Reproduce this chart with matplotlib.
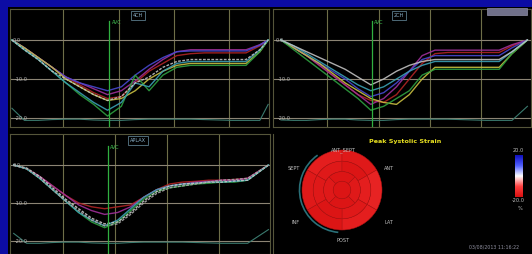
import numpy as np
import matplotlib
matplotlib.use('Agg')
import matplotlib.pyplot as plt
from matplotlib.patches import Rectangle, Wedge, Arc
from matplotlib.colors import LinearSegmentedColormap, Normalize
import matplotlib.transforms as mtransforms

# ---------------- data ----------------
tl_time = [15, 60, 110, 160, 210, 260, 310, 360, 410, 460, 510, 560, 610, 660, 710, 760, 810, 860, 910, 940]
tl_red     = [0, -2, -4.5, -7, -9.5, -11.5, -13.5, -15, -14.5, -11, -8, -6, -4, -3.5, -3.3, -3.3, -3.3, -3.3, -1.5, 0]
tl_magenta = [0, -2, -4.5, -7, -9.5, -11, -12.5, -14, -13, -10.5, -7.5, -5, -3, -2.5, -2.5, -2.5, -2.5, -2.5, -1.2, 0]
tl_blue    = [0, -2, -4.5, -7, -9.5, -11, -12, -13, -12, -9, -6.5, -4.5, -3, -2.8, -2.8, -2.8, -2.8, -2.8, -1.3, 0]
tl_yellow  = [0, -2, -4.5, -7, -10, -12, -14, -15.5, -15, -13, -10, -8, -6.5, -6, -6, -6, -6, -6, -3, 0]
tl_green   = [0, -2.5, -5, -8, -11, -14, -16.5, -19.5, -17, -9, -13, -9, -7, -6.5, -6.5, -6.5, -6.5, -6.5, -3, 0]
tl_cyan    = [0, -2.5, -5, -8, -11, -13.5, -16, -18, -16, -11, -12, -8, -6, -5.5, -5.5, -5.5, -5.5, -5.5, -2.5, 0]
tl_white   = [0, -2.5, -5, -8, -10, -12, -14, -15.5, -14.5, -11, -9.5, -7, -5.5, -5, -5, -5, -5, -5, -2.5, 0]
tl_ecg     = [-17.5, -20.6, -20.6, -20.4, -20.3, -20.3, -20.5, -20.6, -20.6, -20.4, -20.3, -20.3, -20.3, -20.3, -20.4, -20.5, -20.6, -20.6, -20.6, -16.5]

tr_time = [20, 70, 120, 170, 220, 270, 320, 370, 420, 470, 520, 570, 620, 670, 720, 770, 820, 870, 920, 980]
tr_white   = [0, -1.5, -3, -4.5, -6, -7.5, -9.5, -11.5, -10, -8, -6.5, -5.5, -5, -5, -5, -5, -5, -5, -3, 0]
tr_cyan    = [0, -1.5, -3.5, -5.5, -7.5, -9.5, -11.5, -13, -12, -10, -8, -6.5, -5.5, -5.5, -5.5, -5.5, -5.5, -5.5, -3, 0]
tr_magenta = [0, -2, -4, -6.5, -9, -11.5, -14, -16.5, -15, -12, -8, -4, -2.6, -2.6, -2.6, -2.6, -2.6, -2.6, -1.2, 0]
tr_red     = [0, -2, -4, -6.5, -9, -11.5, -14, -15.5, -16, -14, -10, -6, -3.5, -3.2, -3.2, -3.2, -3.2, -3.2, -1.5, 0]
tr_yellow  = [0, -2, -4, -6, -8.5, -11, -13, -15, -16, -16.5, -14, -10, -7, -7, -7, -7, -7, -7, -3.5, 0]
tr_green   = [0, -2.5, -5, -7.5, -10, -12.5, -15, -18, -17, -15, -13, -9, -7.5, -7.5, -7.5, -7.5, -7.5, -7.5, -3.5, 0]
tr_blue    = [0, -2, -4, -6, -8, -10, -12.5, -14.5, -13.5, -11, -8, -5, -4, -4, -4, -4, -4, -4, -2, 0]
tr_ecg     = [-20.5, -20.6, -20.6, -20.4, -20.3, -20.3, -20.5, -20.6, -20.6, -20.4, -20.3, -20.3, -20.3, -20.3, -20.4, -20.5, -20.6, -20.6, -20.6, -17]

bl_time = [10, 60, 110, 160, 210, 260, 310, 360, 410, 460, 510, 560, 610, 660, 710, 760, 810, 860, 910, 990]
bl_white1  = [0, -0.8, -3, -6, -9, -11.5, -14, -15.5, -15, -12.5, -9.5, -7, -5.5, -5, -4.8, -4.5, -4.5, -4.2, -4, 0]
bl_white2  = [0, -1, -3.5, -6.5, -9.5, -12, -14.5, -16, -15.5, -13, -10, -7.5, -6, -5.5, -5, -4.5, -4, -3.8, -3.5, 0]
bl_green   = [0, -1, -3.5, -6.5, -9.5, -12.5, -15, -16.5, -15, -12, -9, -7, -6, -5.5, -5, -4.8, -4.5, -4.5, -4, 0]
bl_cyan    = [0, -1, -3.5, -6.5, -9.5, -12.5, -14.5, -16, -14.5, -11.5, -8.5, -6.5, -5.5, -5, -4.8, -4.5, -4.5, -4.3, -4, 0]
bl_red     = [0, -1, -3, -5.5, -8, -10, -11, -11.5, -11, -10.5, -8.5, -6.5, -5, -4.5, -4.3, -4, -4, -3.8, -3.5, 0]
bl_magenta = [0, -1, -3, -5.5, -8, -10.5, -12, -13, -12.5, -11, -8.5, -6.5, -5.5, -5, -4.5, -4.3, -4, -4, -3.5, 0]
bl_ecg     = [-18, -20.6, -20.6, -20.4, -20.3, -20.3, -20.5, -20.6, -20.6, -20.4, -20.3, -20.3, -20.3, -20.3, -20.4, -20.5, -20.6, -20.6, -20.6, -17]

views = ['4CH', '2CH', 'APLAX']
avc_times = [367, 376, 373]
strain_ticks = [0.0, -10.0, -20.0]

# bull's-eye: 6 basal, 6 mid, 4 apical, 1 apex (peak systolic strain, %)
be_basal  = [-17, -18, -16, -17, -19, -18]
be_mid    = [-18, -19, -17, -18, -19, -18]
be_apical = [-19, -18, -19, -18]
be_apex   = [-19]
be_labels = ['ANT_SEPT', 'ANT', 'LAT', 'POST', 'INF', 'SEPT']
cbar_range = [-20.0, 20.0]

colors = {'red': '#b02424', 'magenta': '#a0309a', 'blue': '#4848d0', 'yellow': '#c8be40',
          'green': '#2ea040', 'cyan': '#3aa0b4', 'white': '#c0c0c0', 'white1': '#c8c8c8',
          'white2': '#a8a8a8'}

# ---------------- figure ----------------
W, H = 532, 254
fig = plt.figure(figsize=(W / 100, H / 100), dpi=100)
fig.patch.set_facecolor('#0c0ca4')
fig.patches.append(Rectangle((8 / W, 0), 1 - 8 / W, 1 - 7 / H, transform=fig.transFigure,
                             facecolor='black', edgecolor='none', zorder=-10))


def px_axes(x0, y0, x1, y1):
    return fig.add_axes([x0 / W, 1 - y1 / H, (x1 - x0) / W, (y1 - y0) / H])


def strain_panel(rect, xlim, ylim, time, series, ecg, avc_t, view, dashed_avg=True):
    ax = px_axes(*rect)
    ax.set_facecolor('black')
    ax.set_xlim(xlim)
    ax.set_ylim(ylim)
    ax.set_xticks([])
    ax.set_yticks([])
    for s in ax.spines.values():
        s.set_color('#55553a')
        s.set_linewidth(0.8)
    for t in [200, 400, 600, 800]:
        ax.axvline(t, color='#6e6e48', lw=0.8, zorder=1)
    for v in strain_ticks:
        ax.axhline(v, color='#8c8474', lw=0.8, zorder=1)
        ax.text(0.012 if v == 0 else 0.02, v, f'{v:.1f}', transform=mtransforms.blended_transform_factory(ax.transAxes, ax.transData),
                color='#b8b8b8', fontsize=3.6, ha='left', va='center', zorder=5)
    ax.plot(time, ecg, color='#3a7a6e', lw=0.8, zorder=2)
    for name, vals in series:
        ls = (0, (2, 1)) if (name.startswith('white') and dashed_avg) else '-'
        ax.plot(time, vals, color=colors[name], lw=1.0, ls=ls, alpha=0.9, zorder=3)
    ax.axvline(avc_t, ymin=0, ymax=0.9, color='#30b040', lw=0.9, zorder=4)
    ax.text(avc_t + 8, 0.885, 'AVC', transform=mtransforms.blended_transform_factory(ax.transData, ax.transAxes),
            color='#40c050', fontsize=3.4, ha='left', va='center', zorder=5)
    ax.text(avc_t + 85, 0.945, view, transform=mtransforms.blended_transform_factory(ax.transData, ax.transAxes),
            color='#8ab0c8', fontsize=3.6, ha='left', va='center', zorder=5,
            bbox=dict(boxstyle='square,pad=0.35', facecolor='black', edgecolor='#5a7a8a', lw=0.6))
    return ax


strain_panel((10, 9, 269, 127), (8, 943), (-22.3, 7.95), tl_time,
             [('red', tl_red), ('magenta', tl_magenta), ('blue', tl_blue), ('yellow', tl_yellow),
              ('green', tl_green), ('cyan', tl_cyan), ('white', tl_white)], tl_ecg, avc_times[0], views[0])
strain_panel((273, 9, 531, 127), (-11, 994), (-22.3, 7.95), tr_time,
             [('red', tr_red), ('magenta', tr_magenta), ('blue', tr_blue), ('yellow', tr_yellow),
              ('green', tr_green), ('cyan', tr_cyan), ('white', tr_white)], tr_ecg, avc_times[1], views[1],
             dashed_avg=False)
strain_panel((10, 134, 270, 254), (-4, 996), (-23.42, 8.16), bl_time,
             [('red', bl_red), ('magenta', bl_magenta), ('green', bl_green), ('cyan', bl_cyan),
              ('white1', bl_white1), ('white2', bl_white2)], bl_ecg, avc_times[2], views[2])

# small grey box at top-right
fig.patches.append(Rectangle((487 / W, 1 - 15 / H), 40 / W, 7 / H, transform=fig.transFigure,
                             facecolor='#70708a', edgecolor='#9090a8', lw=0.5, zorder=5))

# ---------------- bull's-eye panel ----------------
axb = px_axes(273, 134, 532, 254)
axb.set_facecolor('black')
axb.set_xlim(273, 532)
axb.set_ylim(254, 134)
axb.set_xticks([])
axb.set_yticks([])
for s in axb.spines.values():
    s.set_visible(False)
axb.spines['left'].set_visible(True)
axb.spines['left'].set_color('#55553a')

cmap = LinearSegmentedColormap.from_list('strain', ['#d81010', '#ff4040', '#ffffff', '#5060ff', '#1010c0'])
norm = Normalize(cbar_range[0], cbar_range[1])
cx, cy, R = 342, 190, 40
rings = [(be_basal, R, R * 0.72, 6, 60), (be_mid, R * 0.72, R * 0.46, 6, 60), (be_apical, R * 0.46, R * 0.22, 4, 45)]
for vals, ro, ri, n, off in rings:
    for i, v in enumerate(vals):
        a0 = 90 + off - (i + 1) * 360 / n
        axb.add_patch(Wedge((cx, cy), ro, -(a0 + 360 / n), -a0, width=ro - ri, facecolor=cmap(norm(v)),
                            edgecolor='#b01414', lw=0.35))
axb.add_patch(Wedge((cx, cy), R * 0.22, 0, 360, facecolor=cmap(norm(be_apex[0])), edgecolor='#b01414', lw=0.35))
axb.add_patch(Arc((cx, cy), 2 * R + 5, 2 * R + 5, theta1=95, theta2=235, color='#2a7078', lw=1.2))

lab_pos = [(343, 150), (389, 168), (389, 223), (343, 241), (296, 223), (294, 168)]
for lab, (lx, ly) in zip(be_labels, lab_pos):
    axb.text(lx, ly, lab, color='#c0c0c0', fontsize=3.6, ha='center', va='center')
axb.text(405, 141, 'Peak Systolic Strain', color='#e8e020', fontsize=4.6, fontweight='bold', ha='center', va='center')
axb.text(494, 247, '03/08/2013 11:16:22', color='#9090a0', fontsize=3.4, ha='center', va='center')

# colour bar
axc = px_axes(515, 155, 523, 197)
grad = np.linspace(cbar_range[1], cbar_range[0], 100).reshape(-1, 1)
axc.imshow(grad, cmap=cmap, norm=norm, aspect='auto')
axc.set_xticks([])
axc.set_yticks([])
for s in axc.spines.values():
    s.set_visible(False)
axb.text(518, 150, f'{cbar_range[1]:.1f}', color='#c0c0c0', fontsize=3.6, ha='center', va='center')
axb.text(518, 201, f'{cbar_range[0]:.1f}', color='#c0c0c0', fontsize=3.6, ha='center', va='center')
axb.text(520, 209, '%', color='#c0c0c0', fontsize=3.6, ha='center', va='center')

fig.savefig('out.png', dpi=100, facecolor=fig.get_facecolor())
